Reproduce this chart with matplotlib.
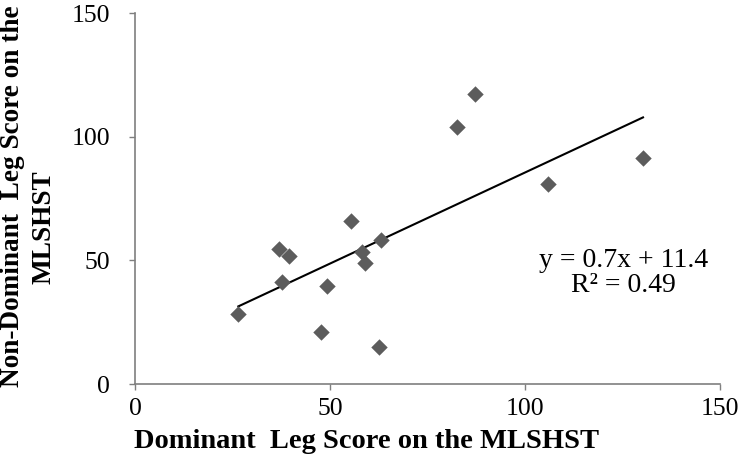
import numpy as np
import matplotlib
matplotlib.use("Agg")
import matplotlib.pyplot as plt

dominant = [26.5, 36.8, 39.6, 37.8, 49.2, 47.7, 55.5, 58.2, 59.1, 63.1, 62.7, 82.6, 87.2, 105.9, 130.3]
non_dominant = [28.2, 54.7, 51.8, 41.3, 39.7, 21.2, 66.1, 53.3, 49.0, 58.3, 14.9, 103.9, 117.5, 81.0, 91.5]
ticks = [0, 50, 100, 150]
equation_text = "y = 0.7x + 11.4\nR² = 0.49"
xlabel_text = "Dominant  Leg Score on the MLSHST"
ylabel_line1 = "Non-Dominant  Leg Score on the"
ylabel_line2 = "MLSHST"

plt.rcParams['font.family'] = ['Liberation Serif', 'DejaVu Serif']

W, H = 744, 463
fig = plt.figure(figsize=(W / 100, H / 100), dpi=100)
ax = fig.add_axes([0.1815, 0.1706, 0.786, 0.8007])

x = np.array(dominant)
y = np.array(non_dominant)
ax.scatter(x, y, marker='D', s=70, color='#5c5c5c', zorder=3, linewidths=0)

slope, intercept = np.polyfit(x, y, 1)
xs = np.array([x.min(), x.max()])
ax.plot(xs, slope * xs + intercept, color='black', lw=1.5, zorder=2)

ax.set_xlim(0, 150)
ax.set_ylim(0, 150)
ax.set_xticks(ticks)
ax.set_yticks(ticks)
ax.tick_params(labelsize=18.5, color='#7f7f7f', length=4, width=1)
ax.tick_params(axis='y', pad=14)
ax.tick_params(axis='x', pad=6)

for s in ['top', 'right']:
    ax.spines[s].set_visible(False)
for s in ['left', 'bottom']:
    ax.spines[s].set_color('#7f7f7f')
    ax.spines[s].set_linewidth(1.2)

fig.text(367 / W, 1 - 441 / H, xlabel_text, fontsize=20.5, fontweight='bold',
         ha='center', va='center')
fig.text(13 / W, 1 - 196 / H, ylabel_line1, fontsize=19.6, fontweight='bold',
         ha='center', va='center', rotation=90)
fig.text(44 / W, 1 - 227 / H, ylabel_line2, fontsize=19.6, fontweight='bold',
         ha='center', va='center', rotation=90)

ax.text(0.835, 0.2995, equation_text, transform=ax.transAxes, ha='center', va='center',
        fontsize=20, linespacing=1.05)

fig.savefig("out.png", dpi=100)
